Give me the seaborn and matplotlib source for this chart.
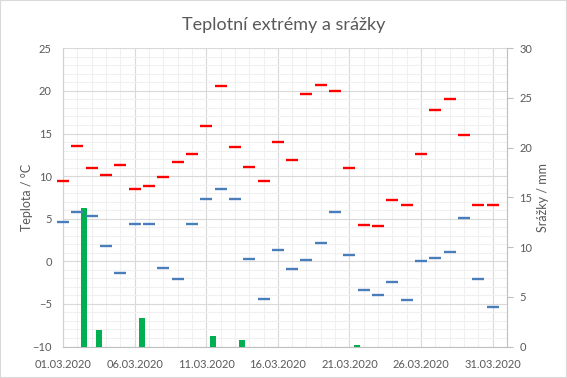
import numpy as np
import pandas as pd
import matplotlib
matplotlib.use("Agg")
import matplotlib.pyplot as plt
from matplotlib.ticker import MultipleLocator, FixedLocator
from matplotlib.patches import Rectangle
import seaborn as sns

# ---- data ----
days = list(range(1, 32))
tmax = [9.4, 13.5, 10.9, 10.1, 11.3, 8.5, 8.8, 9.9, 11.6, 12.6,
        15.9, 20.6, 13.4, 11.1, 9.4, 14.0, 11.9, 19.6, 20.7, 20.0,
        10.9, 4.3, 4.2, 7.2, 6.6, 12.6, 17.8, 19.1, 14.8, 6.6, 6.6]
tmin = [4.6, 5.8, 5.3, 1.8, -1.4, 4.4, 4.4, -0.8, -2.1, 4.4,
        7.3, 8.5, 7.3, 0.3, -4.4, 1.3, -0.9, 0.2, 2.2, 5.8,
        0.7, -3.4, -4.0, -2.4, -4.5, 0.0, 0.4, 1.1, 5.1, -2.1, -5.4]
precip = [0, 13.9, 1.7, 0, 0, 2.9, 0, 0, 0, 0,
          1.1, 0, 0.7, 0, 0, 0, 0, 0, 0, 0,
          0.2, 0, 0, 0, 0, 0, 0, 0, 0, 0, 0]
tick_days = [1, 6, 11, 16, 21, 26, 31]
tick_labels = [f"{d:02d}.03.2020" for d in tick_days]

title = "Teplotní extrémy a srážky"
ylabel_left = "Teplota / °C"
ylabel_right = "Srážky / mm"

df = pd.DataFrame({"day": days, "tmax": tmax, "tmin": tmin, "precip": precip})
df["bar_pos"] = df["day"] + 0.5

# ---- style ----
sns.set_style("white")
plt.rcParams["font.family"] = ["Lato", "DejaVu Sans"]
txt = "#595959"

W, H = 567, 378
fig = plt.figure(figsize=(W / 100, H / 100), dpi=100)
fig.patches.append(Rectangle((0, 0), 1, 1, transform=fig.transFigure,
                             fill=False, edgecolor="#d9d9d9", linewidth=1.5))

left, right, top, bottom = 63, 507, 48.3, 346.5
ax = fig.add_axes([left / W, 1 - bottom / H, (right - left) / W, (bottom - top) / H])
ax2 = ax.twinx()
ax3 = ax.twinx()

# precipitation bars
sns.barplot(data=df, x="bar_pos", y="precip", native_scale=True, width=0.42,
            color="#00b050", saturation=1, errorbar=None, linewidth=0, ax=ax2)

# temperature dashes
sns.scatterplot(data=df, x="day", y="tmax", marker="_", s=78, color="#ff0000",
                edgecolor="#ff0000", linewidth=1.7, ax=ax3, zorder=5, clip_on=False)
sns.scatterplot(data=df, x="day", y="tmin", marker="_", s=78, color="#4a7ebb",
                edgecolor="#4a7ebb", linewidth=1.7, ax=ax3, zorder=5, clip_on=False)

for a in (ax, ax2, ax3):
    a.set_xlim(1, 32)
ax.set_ylim(-10, 25)
ax3.set_ylim(-10, 25)
ax2.set_ylim(0, 30)

# grid on primary
ax.set_axisbelow(True)
ax.xaxis.set_major_locator(FixedLocator(tick_days))
ax.xaxis.set_minor_locator(MultipleLocator(1))
ax.yaxis.set_major_locator(MultipleLocator(5))
ax.yaxis.set_minor_locator(MultipleLocator(1))
ax.grid(which="minor", color="#f0f0f0", linewidth=0.8)
ax.grid(which="major", color="#d9d9d9", linewidth=0.8)
ax.set_xticks(tick_days)
ax.set_xticklabels(tick_labels)
ax.tick_params(axis="both", which="both", length=0, colors=txt, labelsize=8)
ax.tick_params(axis="x", pad=9)
ax.tick_params(axis="y", pad=8)

ax2.yaxis.set_major_locator(MultipleLocator(5))
ax2.tick_params(axis="y", length=4, width=0.8, color="#bfbfbf", colors=txt,
                labelsize=8, pad=5)
ax2.tick_params(axis="y", color="#bfbfbf")
ax2.tick_params(axis="x", length=0, labelbottom=False)
ax2.set_xlabel("")

ax3.set_axis_off()

for a in (ax, ax2):
    for s in a.spines.values():
        s.set_visible(False)
ax.spines["left"].set_visible(True)
ax.spines["left"].set_color("#d0d0d0")
ax.spines["bottom"].set_visible(True)
ax.spines["bottom"].set_color("#bfbfbf")
ax2.spines["right"].set_visible(True)
ax2.spines["right"].set_color("#bfbfbf")
for a in (ax, ax2):
    for s in a.spines.values():
        s.set_linewidth(0.8)

ax.set_xlabel("")
ax.set_ylabel(ylabel_left, color=txt, fontsize=9)
ax.yaxis.set_label_coords((33 - left) / (right - left), 0.5)
ax2.set_ylabel(ylabel_right, color=txt, fontsize=9, rotation=90)
ax2.yaxis.set_label_coords((537 - left) / (right - left), 0.5)

fig.text(284 / W, 1 - 24.6 / H, title, ha="center", va="center",
         fontsize=13, color=txt)

fig.savefig("out.png", dpi=100)
